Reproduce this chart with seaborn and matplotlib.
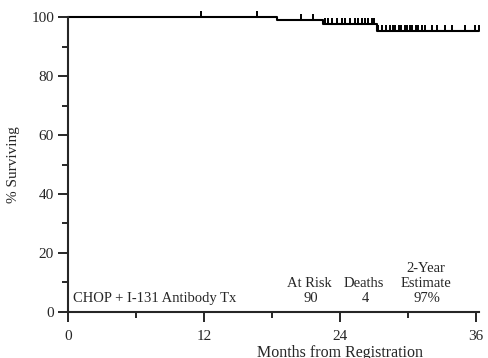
import numpy as np
import pandas as pd
import matplotlib
matplotlib.use("Agg")
import matplotlib.pyplot as plt
import seaborn as sns
from matplotlib.ticker import MultipleLocator

# ----------------------------------------------------------
# DATOS
# ----------------------------------------------------------

step_months = [0, 18.4, 22.5, 27.3, 36.3]
step_surv = [100, 98.9, 97.5, 95.3, 95.3]

censor_months = [11.7, 16.7, 20.6, 21.6,
                 22.7, 22.9, 23.3, 23.7, 24.2, 24.4, 24.9, 25.3,
                 25.6, 25.9, 26.2, 26.5, 26.8, 27.0,
                 27.4, 27.7, 28.1, 28.4, 28.7, 28.9, 29.2, 29.4,
                 29.7, 29.9, 30.2, 30.4, 30.7, 30.9, 31.2, 31.5,
                 32.1, 32.6, 33.3, 33.9, 35.0, 35.9, 36.3]

x_ticks = [0, 12, 24, 36]
y_ticks = [0, 20, 40, 60, 80, 100]

grupo = "CHOP + I-131 Antibody Tx"
at_risk = "90"
deaths = "4"
estimate = "97%"

# ----------------------------------------------------------
# ESTILO
# ----------------------------------------------------------

sns.set_style("ticks")
plt.rcParams["font.family"] = ["Liberation Serif", "DejaVu Serif"]
plt.rcParams["font.size"] = 10.5

curva = pd.DataFrame({"mes": step_months, "surv": step_surv})

idx = np.searchsorted(step_months, censor_months, side="right") - 1
censura = pd.DataFrame({
    "mes": censor_months,
    "surv": np.array(step_surv)[idx]
})

fig = plt.figure(figsize=(4.88, 3.58), dpi=100)
ax = fig.add_axes([0.1393, 0.1285, 0.843, 0.824])

sns.lineplot(
    data=curva, x="mes", y="surv", ax=ax,
    drawstyle="steps-post", estimator=None,
    color="black", linewidth=1.5, clip_on=False
)

# marcas de censura (tick hacia arriba)
sns.scatterplot(
    data=censura, x="mes", y="surv", ax=ax,
    marker=2, s=16, color="black", linewidth=1.4,
    clip_on=False, legend=False
)

ax.set_xlim(0, 36.3)
ax.set_ylim(0, 100)

ax.set_xticks(x_ticks)
ax.set_yticks(y_ticks)
ax.xaxis.set_minor_locator(MultipleLocator(6))
ax.yaxis.set_minor_locator(MultipleLocator(10))

ax.tick_params(which="major", direction="out", length=7, width=1.4, labelsize=11)
ax.tick_params(which="minor", direction="out", length=4.5, width=1.4)
ax.tick_params(axis="x", which="major", pad=6)
ax.tick_params(axis="y", which="major", pad=3)

sns.despine(ax=ax)
for s in ["left", "bottom"]:
    ax.spines[s].set_linewidth(1.5)

ax.set_xlabel("Months from Registration", fontsize=11.5)
ax.xaxis.set_label_coords(0.662, -0.112)
ax.xaxis.label.set_verticalalignment("top")

ax.set_ylabel("% Surviving", fontsize=11)
ax.yaxis.set_label_coords(-0.117, 0.5)

# ----------------------------------------------------------
# TEXTOS
# ----------------------------------------------------------

ax.text(0.45, 4.7, grupo, ha="left", va="center")
ax.text(21.3, 9.8, "At Risk", ha="center", va="center")
ax.text(21.4, 4.7, at_risk, ha="center", va="center")
ax.text(26.1, 9.8, "Deaths", ha="center", va="center")
ax.text(26.2, 4.7, deaths, ha="center", va="center")
ax.text(31.6, 14.9, "2-Year", ha="center", va="center")
ax.text(31.6, 9.8, "Estimate", ha="center", va="center")
ax.text(31.7, 4.7, estimate, ha="center", va="center")

plt.savefig("out.png", dpi=100)
plt.close()
